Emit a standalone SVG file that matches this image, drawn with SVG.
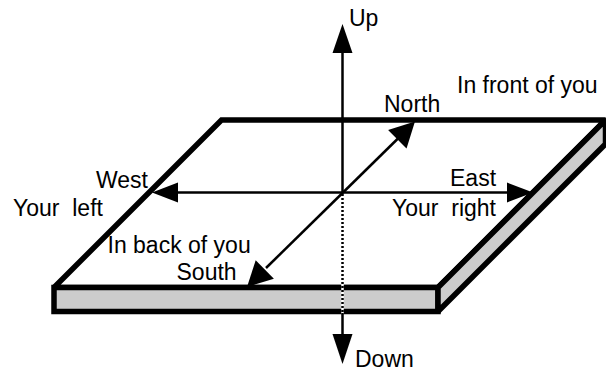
<svg xmlns="http://www.w3.org/2000/svg" width="606" height="372" viewBox="0 0 606 372">
<style>
.edge{stroke:#000;stroke-width:5.5;stroke-linejoin:miter;stroke-miterlimit:2}
.side{fill:#cccccc}
.ax{stroke:#000;stroke-width:2.5;fill:none}
.head{fill:#000;stroke:none}
text{font-family:"Liberation Sans",Arial,sans-serif;font-size:23px;fill:#000}
</style>
<rect width="606" height="372" fill="#fff"/>
<g id="slab">
<polygon id="top-face" class="edge" fill="#fff" points="54,287.5 221.5,120 605.5,120 438,287.5"/>
<rect id="front-face" class="edge side" x="54" y="287.5" width="384" height="24"/>
<polygon id="side-face" class="edge side" points="438,287.5 605.5,120 605.5,144 438,311.5"/>
</g>
<g id="connectors">
<line class="ax" x1="342.5" y1="193" x2="342.5" y2="50"/>
<polygon class="head" points="342.5,24 332.5,53 352.5,53"/>
<line x1="342.5" y1="193" x2="342.5" y2="314" stroke="#fff" stroke-width="2.5"/>
<line class="ax" x1="342.5" y1="194" x2="342.5" y2="314" stroke-dasharray="2,2"/>
<line class="ax" x1="342.5" y1="313" x2="342.5" y2="337"/>
<polygon class="head" points="342.5,364 332.5,334 352.5,334"/>
<line class="ax" x1="343" y1="192.5" x2="176" y2="192.5"/>
<polygon class="head" points="152,192.5 178,182.5 178,202.5"/>
<line class="ax" x1="343" y1="192.5" x2="509" y2="192.5"/>
<polygon class="head" points="533,192.5 507,182.5 507,202.5"/>
<line class="ax" x1="343" y1="192.5" x2="399" y2="137.5"/>
<polygon class="head" points="415,121.5 406.5,148.4 388.1,130"/>
<line class="ax" x1="343" y1="192.5" x2="266" y2="268"/>
<polygon class="head" points="247,287 273.9,278.8 255.7,260.2"/>
</g>
<g id="labels">
<text x="349" y="26">Up</text>
<text x="457" y="92.7">In front of you</text>
<text x="384" y="112">North</text>
<text x="96" y="188.3">West</text>
<text x="13" y="216" xml:space="preserve">Your  left</text>
<text x="450" y="185.7">East</text>
<text x="392" y="216" xml:space="preserve">Your  right</text>
<text x="107.5" y="252.7">In back of you</text>
<text x="176.5" y="280">South</text>
<text x="355" y="367">Down</text>
</g>
</svg>
